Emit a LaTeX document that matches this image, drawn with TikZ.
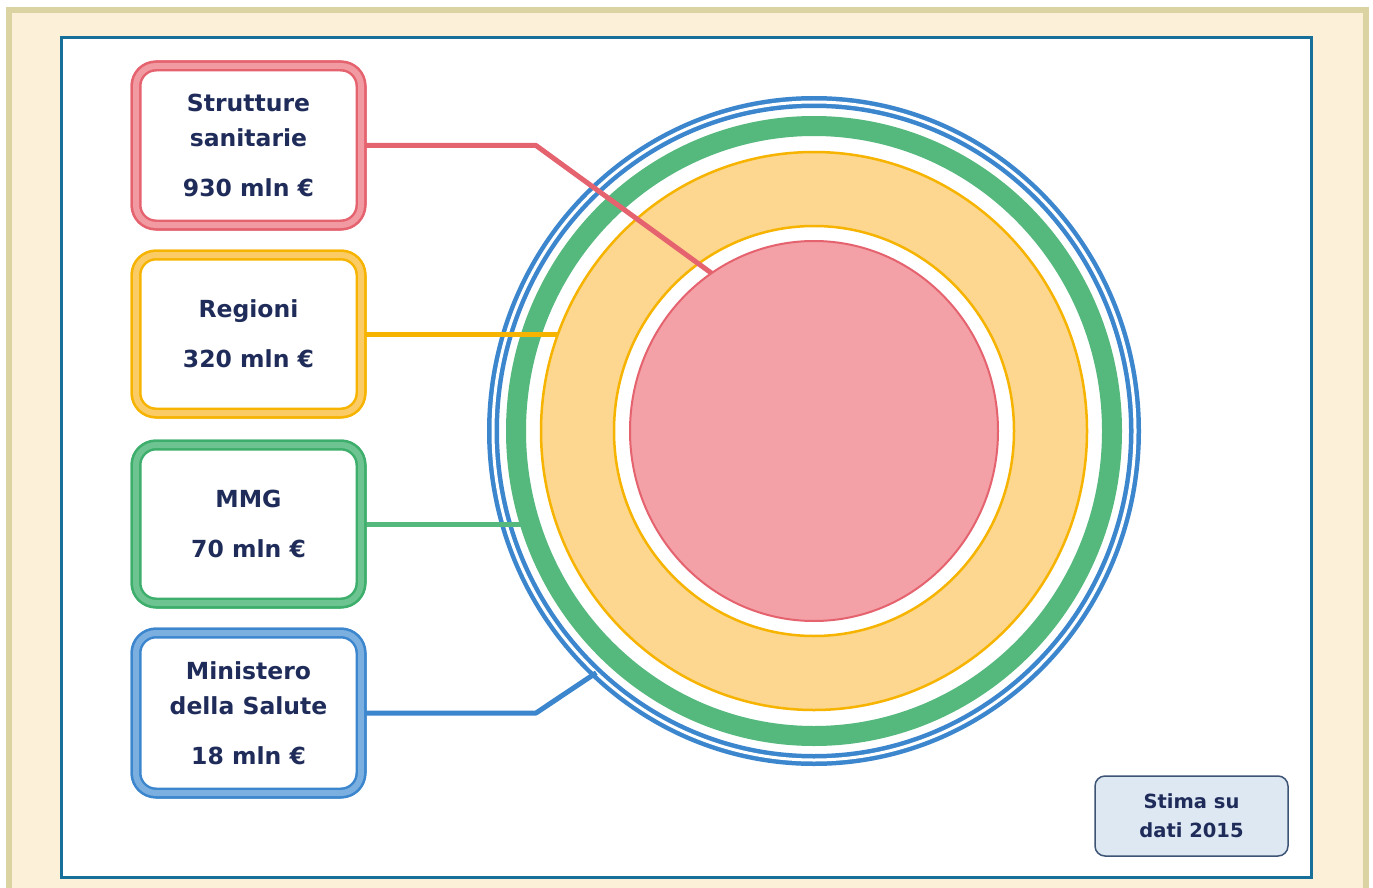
\documentclass[tikz,border=0pt]{standalone}
\usepackage{fontspec}
\setmainfont{DejaVu Sans}
\usetikzlibrary{shapes.geometric}
\definecolor{reddk}{HTML}{E5636F}
\definecolor{redlt}{HTML}{F19AA2}
\definecolor{redfill}{HTML}{F3A0A6}
\definecolor{yeldk}{HTML}{F6B400}
\definecolor{yellt}{HTML}{FBCB66}
\definecolor{yelfill}{HTML}{FDD68F}
\definecolor{grndk}{HTML}{3DAE6B}
\definecolor{grnlt}{HTML}{6DC491}
\definecolor{grnring}{HTML}{55B97E}
\definecolor{bludk}{HTML}{3C86CE}
\definecolor{blult}{HTML}{7BAFE0}
\definecolor{txt}{HTML}{1F2C5A}
\definecolor{cream}{HTML}{FCF0D9}
\definecolor{tan}{HTML}{DCD3A2}
\definecolor{panel}{HTML}{17709A}
\definecolor{stimafill}{HTML}{DDE8F3}
\definecolor{stimadraw}{HTML}{3D5475}
\begin{document}
\begin{tikzpicture}[x=1pt,y=-1pt,
  lbox/.style 2 args={rectangle, rounded corners=20pt, minimum width=225pt,
    minimum height=159pt, inner sep=0pt, text=txt, align=center,
    font=\fontsize{23.5}{35}\selectfont\bfseries,
    preaction={fill=white},
    preaction={draw=#1, line width=11pt},
    draw=#2, line width=6pt},
  ring/.style={ellipse, inner sep=0pt, outer sep=0pt},
  conn/.style={line width=5pt, line join=round}]
\useasboundingbox (0,0) rectangle (1373,888);
\clip (0,0) rectangle (1373,888);
\fill[white] (0,0) rectangle (1373,888);
\draw[tan, fill=cream, line width=6pt] (9,10) rectangle (1366,895);
\draw[panel, fill=white, line width=3pt] (61.5,37.5) rectangle (1311,877);

% rings
\node[ring, fill=yelfill, draw=yeldk, line width=2.5pt, minimum width=546pt, minimum height=558pt] (yel) at (814,431) {};
\node[ring, fill=white, draw=yeldk, line width=2.5pt, minimum width=400pt, minimum height=410pt] (yelin) at (814,431) {};
\node[ring, fill=redfill, draw=reddk, line width=2pt, minimum width=368pt, minimum height=380pt] (disk) at (814,431) {};
\node[ring, draw=grnring, line width=20pt, minimum width=596pt, minimum height=610pt] (grn) at (814,431) {};
\node[ring, draw=bludk, line width=12pt, postaction={draw=white, line width=3pt}, minimum width=642pt, minimum height=658pt] (blu) at (814,431) {};

% box positions
\coordinate (rpos) at (248.5,145.5);
\coordinate (ypos) at (248.5,334);
\coordinate (gpos) at (248.5,524);
\coordinate (bpos) at (248.5,713);

\node[lbox={reddk}{redlt}] (rbox) at (rpos) {Strutture\\sanitarie\\[15pt]930 mln €};
\node[lbox={yeldk}{yellt}, minimum height=158pt] (ybox) at (ypos) {Regioni\\[15pt]320 mln €};
\node[lbox={grndk}{grnlt}, minimum height=158pt] (gbox) at (gpos) {MMG\\[15pt]70 mln €};
\node[lbox={bludk}{blult}, minimum height=160pt] (bbox) at (bpos) {Ministero\\della Salute\\[15pt]18 mln €};

% connectors
\draw[conn, reddk] (rbox.east) -- ++(172,0) -- (disk.123);
\draw[conn, yeldk] (ybox.east) -- (ybox.east -| yel.159);
\draw[conn, grnring] (gbox.east) -- (gbox.east -| grn.197);
\draw[conn, bludk] (bbox.east) -- ++(172,0) -- (blu.228);

% box borders again over the connector starts
\node[lbox={reddk}{redlt}] at (rpos) {Strutture\\sanitarie\\[15pt]930 mln €};
\node[lbox={yeldk}{yellt}, minimum height=158pt] at (ypos) {Regioni\\[15pt]320 mln €};
\node[lbox={grndk}{grnlt}, minimum height=158pt] at (gpos) {MMG\\[15pt]70 mln €};
\node[lbox={bludk}{blult}, minimum height=160pt] at (bpos) {Ministero\\della Salute\\[15pt]18 mln €};

\node[rectangle, rounded corners=10pt, fill=stimafill, draw=stimadraw, line width=1.5pt,
  minimum width=193pt, minimum height=80pt, inner sep=0pt, align=center, text=txt,
  font=\fontsize{19.5}{29}\selectfont\bfseries] (stima) at (1191.5,816) {Stima su\\dati 2015};
\end{tikzpicture}
\end{document}
